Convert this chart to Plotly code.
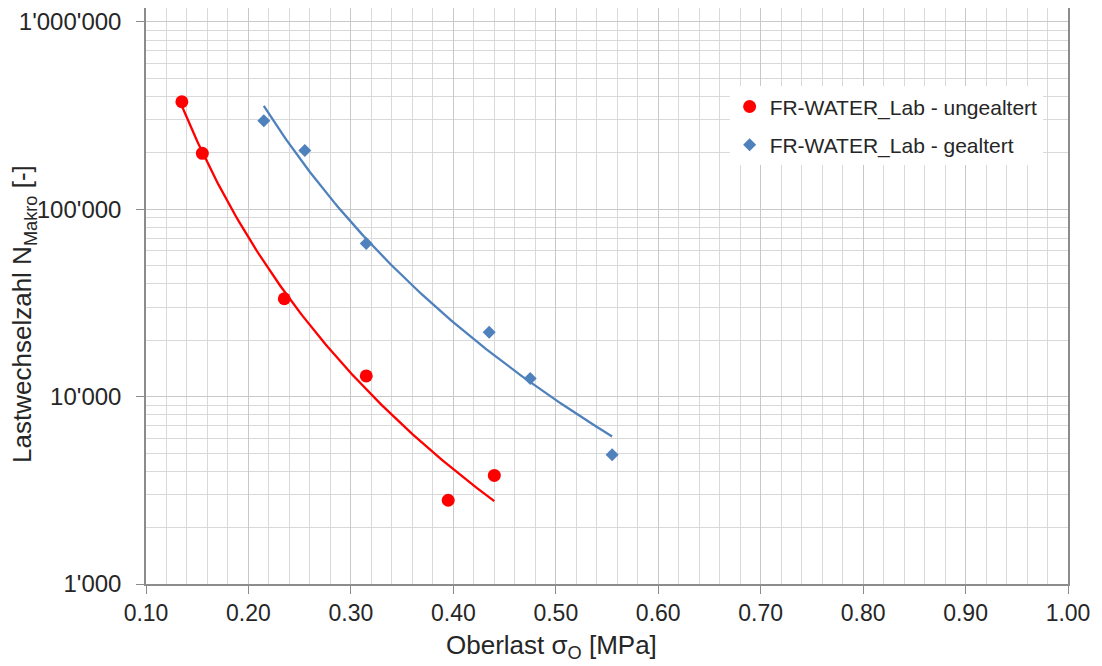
import numpy as np
import plotly.graph_objects as go

# Data
x_ungealtert = [0.135, 0.155, 0.235, 0.315, 0.395, 0.44]
n_ungealtert = [375000, 199000, 33300, 12900, 2800, 3800]
x_gealtert = [0.215, 0.255, 0.315, 0.435, 0.475, 0.555]
n_gealtert = [297000, 206000, 65700, 22100, 12500, 4900]

y_tickvals = [1000, 10000, 100000, 1000000]
y_ticktext = ["1'000", "10'000", "100'000", "1'000'000"]
x_tickvals = [0.1, 0.2, 0.3, 0.4, 0.5, 0.6, 0.7, 0.8, 0.9, 1.0]

RED = "#ff0000"
BLUE = "#4f81bd"
FONT = "Liberation Sans, Arial, sans-serif"
TXT = "#262626"


def power_fit(xs, ys):
    lx = np.log10(np.array(xs))
    ly = np.log10(np.array(ys))
    b, a = np.polyfit(lx, ly, 1)
    xf = np.linspace(min(xs), max(xs), 200)
    return xf, 10 ** (a + b * np.log10(xf))


fig = go.Figure()

for xs, ys, col in [(x_ungealtert, n_ungealtert, RED), (x_gealtert, n_gealtert, BLUE)]:
    xf, yf = power_fit(xs, ys)
    fig.add_trace(go.Scatter(x=xf, y=yf, mode="lines", line=dict(color=col, width=2.3),
                             showlegend=False, hoverinfo="skip"))

fig.add_trace(go.Scatter(x=x_ungealtert, y=n_ungealtert, mode="markers",
                         name="FR-WATER_Lab - ungealtert", legendgroup="a",
                         marker=dict(color=RED, size=13, symbol="circle")))
fig.add_trace(go.Scatter(x=x_gealtert, y=n_gealtert, mode="markers",
                         name="FR-WATER_Lab - gealtert", legendgroup="b",
                         marker=dict(color=BLUE, size=10, symbol="diamond")))

minor_y = [m * 10 ** k for k in range(3, 7) for m in range(2, 10)]

fig.update_layout(
    width=1086, height=658,
    margin=dict(l=138, r=26, t=0, b=81.5),
    paper_bgcolor="white", plot_bgcolor="white",
    font=dict(family=FONT, size=24, color=TXT),
    showlegend=True,
    legend=dict(x=0.633, y=0.864, xanchor="left", yanchor="top",
                bgcolor="white", borderwidth=0,
                font=dict(size=21, color=TXT), itemsizing="trace",
                traceorder="grouped", tracegroupgap=8),
    xaxis=dict(
        range=[0.1, 1.0], tickvals=x_tickvals, tickformat=".2f",
        showline=True, linecolor="#8c8c8c", linewidth=1.5, mirror=True,
        ticks="outside", ticklen=8, tickcolor="#8c8c8c",
        showgrid=True, gridcolor="#c8c8c8", gridwidth=1,
        minor=dict(dtick=0.02, showgrid=True, gridcolor="#d9d9d9", gridwidth=1),
        zeroline=False, automargin=False,
        tickfont=dict(size=23, color=TXT),
    ),
    yaxis=dict(
        type="log", range=[3, 6.0745],
        tickvals=y_tickvals, ticktext=y_ticktext,
        showline=True, linecolor="#8c8c8c", linewidth=1.5, mirror=True,
        ticks="outside", ticklen=8, tickcolor="#8c8c8c", ticklabelstandoff=10,
        showgrid=True, gridcolor="#c8c8c8", gridwidth=1,
        minor=dict(tickvals=minor_y, showgrid=True, gridcolor="#d9d9d9", gridwidth=1),
        zeroline=False, automargin=False,
        tickfont=dict(size=24, color=TXT),
    ),
    annotations=[
        dict(text="Lastwechselzahl N<sub>Makro</sub> [-]", textangle=-90,
             xref="paper", yref="paper", x=-0.1323, y=0.469,
             xanchor="center", yanchor="middle", showarrow=False,
             font=dict(size=26, color=TXT)),
        dict(text="Oberlast σ<sub>O</sub> [MPa]",
             xref="paper", yref="paper", x=0.4403, y=-0.108,
             xanchor="center", yanchor="middle", showarrow=False,
             font=dict(size=26, color=TXT)),
    ],
)

fig.write_html("out.html")
